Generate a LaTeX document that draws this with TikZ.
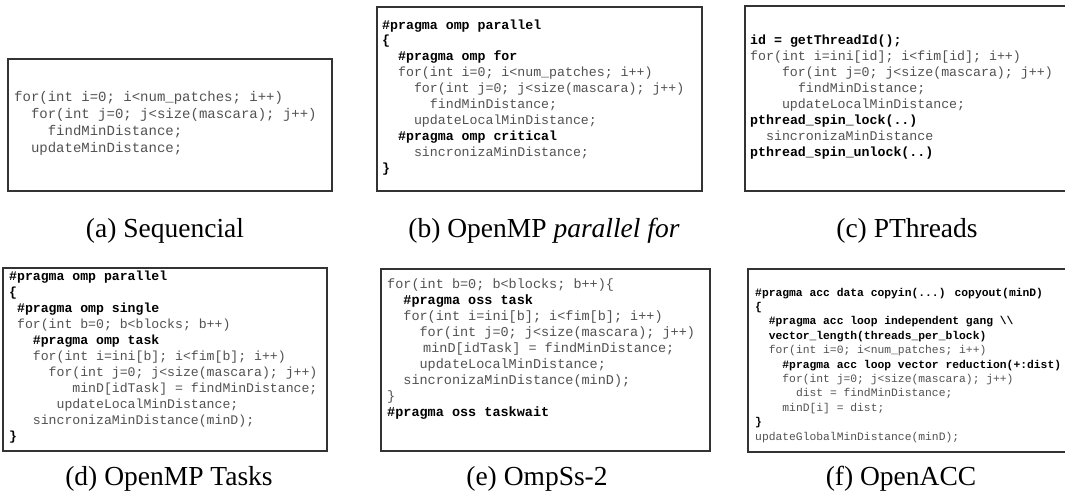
\documentclass[tikz,border=0pt]{standalone}
\usepackage{fontspec}
\setmainfont{Liberation Serif}
\newfontfamily\mono{Liberation Mono}
\tikzset{
  codebox/.style={draw=black!80, line width=1.4pt, fill=white},
  codeline/.style={anchor=base west, inner sep=0pt, text=black!68},
  captext/.style={anchor=base, inner sep=0pt, font=\fontsize{27.5}{30}\selectfont},
  fonta/.style={font=\mono\fontsize{14}{14}\selectfont},
  fontb/.style={font=\mono\fontsize{13.25}{14}\selectfont},
  fontc/.style={font=\mono\fontsize{13.27}{14}\selectfont},
  fontd/.style={font=\mono\fontsize{13.17}{14}\selectfont},
  fonte/.style={font=\mono\fontsize{13.5}{14}\selectfont},
  fontf/.style={font=\mono\fontsize{11.33}{12}\selectfont},
}
\newcommand\kw[1]{{\bfseries\color{black}#1}}
\begin{document}
\begin{tikzpicture}[x=1pt,y=-1pt]
\useasboundingbox (0,0) rectangle (1065,498);
\clip (0,0) rectangle (1065,498);
\fill[white] (0,0) rectangle (1065,498);

% ---------- (a) Sequencial ----------
\draw[codebox] (8,59) rectangle (332,191);
\begin{scope}[every node/.append style={codeline,fonta}]
\node (a1) at (14,101.5) {for(int i=0; i<num\_patches; i++)};
\node (a2) at (30.8,118.5) {for(int j=0; j<size(mascara); j++)};
\node (a3) at (47.6,135.5) {findMinDistance;};
\node (a4) at (30.8,152.5) {updateMinDistance;};
\end{scope}
\node[captext] (capa) at (165,237) {(a) Sequencial};

% ---------- (b) OpenMP parallel for ----------
\draw[codebox] (377,7) rectangle (702,191);
\begin{scope}[every node/.append style={codeline,fontb}]
\node (b1) at (382,29) {\kw{\#pragma omp parallel}};
\node (b2) at (382,44.9) {\kw{\{}};
\node (b3) at (397.9,60.8) {\kw{\#pragma omp for}};
\node (b4) at (397.9,76.7) {for(int i=0; i<num\_patches; i++)};
\node (b5) at (413.8,92.6) {for(int j=0; j<size(mascara); j++)};
\node (b6) at (429.7,108.5) {findMinDistance;};
\node (b7) at (413.8,124.4) {updateLocalMinDistance;};
\node (b8) at (397.9,140.3) {\kw{\#pragma omp critical}};
\node (b9) at (413.8,156.2) {sincronizaMinDistance;};
\node (b10) at (382,172.1) {\kw{\}}};
\end{scope}
\node[captext] (capb) at (544,237) {(b) OpenMP \textit{parallel for}};

% ---------- (c) PThreads ----------
\draw[codebox] (745,6) rectangle (1075,191);
\begin{scope}[every node/.append style={codeline,fontc}]
\node (c1) at (750,44.5) {\kw{id = getThreadId();}};
\node (c2) at (750,60.5) {for(int i=ini[id]; i<fim[id]; i++)};
\node (c3) at (781.8,76.5) {for(int j=0; j<size(mascara); j++)};
\node (c4) at (797.8,92.5) {findMinDistance;};
\node (c5) at (781.8,108.5) {updateLocalMinDistance;};
\node (c6) at (750,124.5) {\kw{pthread\_spin\_lock(..)}};
\node (c7) at (765.9,140.5) {sincronizaMinDistance};
\node (c8) at (750,156.5) {\kw{pthread\_spin\_unlock(..)}};
\end{scope}
\node[captext] (capc) at (907,237) {(c) PThreads};

% ---------- (d) OpenMP Tasks ----------
\draw[codebox] (3,268) rectangle (327,451);
\begin{scope}[every node/.append style={codeline,fontd}]
\node (d1) at (9,280.5) {\kw{\#pragma omp parallel}};
\node (d2) at (9,296.5) {\kw{\{}};
\node (d3) at (16.9,312.5) {\kw{\#pragma omp single}};
\node (d4) at (16.9,328.5) {for(int b=0; b<blocks; b++)};
\node (d5) at (32.7,344.5) {\kw{\#pragma omp task}};
\node (d6) at (32.7,360.5) {for(int i=ini[b]; i<fim[b]; i++)};
\node (d7) at (48.5,376.5) {for(int j=0; j<size(mascara); j++)};
\node (d8) at (72.2,392.5) {minD[idTask] = findMinDistance;};
\node (d9) at (56.4,408.5) {updateLocalMinDistance;};
\node (d10) at (32.7,424.5) {sincronizaMinDistance(minD);};
\node (d11) at (9,440.5) {\kw{\}}};
\end{scope}
\node[captext] (capd) at (169,485) {(d) OpenMP Tasks};

% ---------- (e) OmpSs-2 ----------
\draw[codebox] (381,269) rectangle (710,451);
\begin{scope}[every node/.append style={codeline,fonte}]
\node (e1) at (387,288.5) {for(int b=0; b<blocks; b++)\{};
\node (e2) at (403.2,304.5) {\kw{\#pragma oss task}};
\node (e3) at (403.2,320.5) {for(int i=ini[b]; i<fim[b]; i++)};
\node (e4) at (419.4,336.5) {for(int j=0; j<size(mascara); j++)};
\node (e5) at (423,352.5) {minD[idTask] = findMinDistance;};
\node (e6) at (419.4,368.5) {updateLocalMinDistance;};
\node (e7) at (403.2,384.5) {sincronizaMinDistance(minD);};
\node (e8) at (387,400.5) {\}};
\node (e9) at (387,416.5) {\kw{\#pragma oss taskwait}};
\end{scope}
\node[captext] (cape) at (537,485) {(e) OmpSs-2};

% ---------- (f) OpenACC ----------
\draw[codebox] (748,269) rectangle (1075,452);
\begin{scope}[every node/.append style={codeline,fontf}]
\node (f1) at (755,296) {\kw{\#pragma acc data copyin(...) copyout(minD)}};
\node (f2) at (755,310.4) {\kw{\{}};
\node (f3) at (768.6,324.8) {\kw{\#pragma acc loop independent gang \textbackslash\textbackslash}};
\node (f4) at (768.6,339.2) {\kw{vector\_length(threads\_per\_block)}};
\node (f5) at (768.6,353.6) {for(int i=0; i<num\_patches; i++)};
\node (f6) at (782.2,368) {\kw{\#pragma acc loop vector reduction(+:dist)}};
\node (f7) at (782.2,382.4) {for(int j=0; j<size(mascara); j++)};
\node (f8) at (795.8,396.8) {dist = findMinDistance;};
\node (f9) at (782.2,411.2) {minD[i] = dist;};
\node (f10) at (755,425.6) {\kw{\}}};
\node (f11) at (755,440) {updateGlobalMinDistance(minD);};
\end{scope}
\node[captext] (capf) at (901,485) {(f) OpenACC};
\end{tikzpicture}
\end{document}
